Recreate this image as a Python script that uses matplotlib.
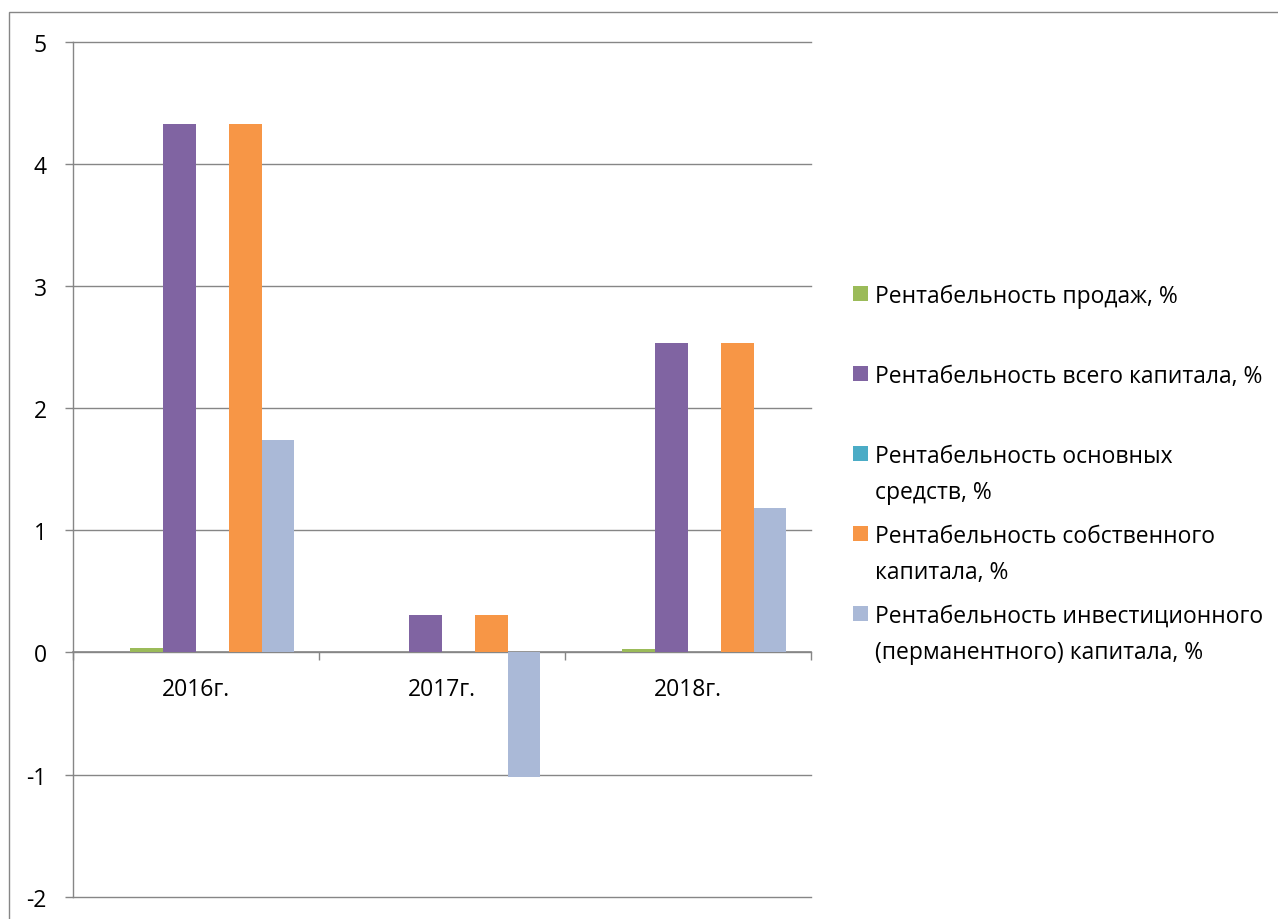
import matplotlib
matplotlib.use("Agg")
import matplotlib.pyplot as plt
from matplotlib.patches import Rectangle
import numpy as np

plt.rcParams['font.family'] = ['Open Sans', 'DejaVu Sans']

# Profitability indicators by year
years = ["2016г.", "2017г.", "2018г."]
series_names = [
    "Рентабельность продаж, %",
    "Рентабельность всего капитала, %",
    "Рентабельность основных\nсредств, %",
    "Рентабельность собственного\nкапитала, %",
    "Рентабельность инвестиционного\n(перманентного) капитала, %",
]
sales = [0.04, 0.0, 0.03]
total_capital = [4.33, 0.31, 2.53]
fixed_assets = [0.0, 0.0, 0.0]
equity = [4.33, 0.31, 2.53]
invested_capital = [1.74, -1.02, 1.18]
series_values = [sales, total_capital, fixed_assets, equity, invested_capital]
colors = ["#9BBB59", "#8064A2", "#4BACC6", "#F79646", "#AAB9D7"]
y_ticks = [-2, -1, 0, 1, 2, 3, 4, 5]

W, H = 1278, 920
GRAY = "#868686"
FS = 16.5

fig = plt.figure(figsize=(W / 100, H / 100), dpi=100)
fig.patch.set_facecolor("white")

# outer chart-area frame
fig.patches.append(Rectangle((9 / W, -0.1), (W + 20) / W, (1 - 13 / H) + 0.1,
                             transform=fig.transFigure, fill=False,
                             ec=GRAY, lw=1.0))

top_px, bot_px = 42.7, 897.7
ax = fig.add_axes([73 / W, 1 - bot_px / H, (811 - 73) / W, (bot_px - top_px) / H])

# each group holds six slots with a 150% gap; the first slot stays empty
slots = 6
width = 1 / (slots + 1.5)
x = np.arange(len(years))
for k, (vals, col) in enumerate(zip(series_values, colors)):
    offset = (k + 1 - (slots - 1) / 2) * width
    ax.bar(x + offset, vals, width, color=col, zorder=3, label=series_names[k])

ax.set_xlim(-0.5, len(years) - 0.5)
ax.set_ylim(y_ticks[0], y_ticks[-1])
ax.set_yticks(y_ticks)
ax.set_yticklabels([str(v) for v in y_ticks])

# horizontal gridlines, including the ones on the axis limits
for yv in y_ticks:
    ax.axhline(yv, color=GRAY, lw=1.0, zorder=0.5, clip_on=False)

ax.set_xticks(x)
ax.set_xticklabels(years)
ax.set_xticks(np.arange(len(years) + 1) - 0.5, minor=True)
ax.tick_params(axis="x", which="major", length=0, pad=18, labelsize=FS)
ax.tick_params(axis="x", which="minor", length=6, width=1.0, color=GRAY, direction="out")
ax.tick_params(axis="y", length=6, width=1.0, color=GRAY, pad=13, labelsize=FS)

for s in ("top", "right"):
    ax.spines[s].set_visible(False)
ax.spines["bottom"].set_position(("data", 0))
ax.spines["bottom"].set_color(GRAY)
ax.spines["bottom"].set_linewidth(1.2)
ax.spines["left"].set_color(GRAY)
ax.spines["left"].set_linewidth(1.0)

# legend, entries evenly spaced
y0, pitch = 294, 80
for k, (name, col) in enumerate(zip(series_names, colors)):
    yc = y0 + pitch * k
    fig.patches.append(Rectangle((853 / W, 1 - (yc + 7.5) / H), 15 / W, 15 / H,
                                 transform=fig.transFigure, color=col, lw=0))
    fig.text(875 / W, 1 - (yc - 9.4) / H, name, fontsize=FS, va="top", ha="left",
             linespacing=1.67)

fig.savefig("out.png", dpi=100)
